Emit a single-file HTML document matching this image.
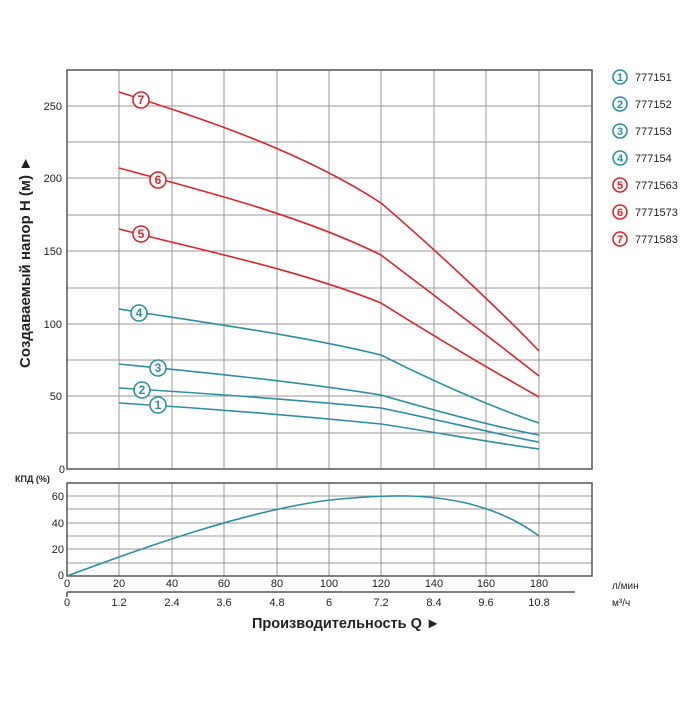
<!DOCTYPE html>
<html><head><meta charset="utf-8"><style>
body{margin:0;background:#fff}
text{font-family:"Liberation Sans",sans-serif;fill:#222}
</style></head><body>
<svg width="700" height="700" viewBox="0 0 700 700" xmlns="http://www.w3.org/2000/svg">
<g stroke="#999" stroke-width="1" fill="none">
<path d="M119 70V469M172 70V469M224 70V469M277 70V469M329 70V469M381 70V469M434 70V469M486 70V469M539 70V469"/>
<path d="M67 106H592M67 142H592M67 178H592M67 215H592M67 251H592M67 288H592M67 324H592M67 360H592M67 396H592M67 433H592"/>
<path d="M119 483V576M172 483V576M224 483V576M277 483V576M329 483V576M381 483V576M434 483V576M486 483V576M539 483V576"/>
<path d="M67 496H592M67 509H592M67 523H592M67 536H592M67 549H592M67 563H592"/>
</g>
<rect x="67" y="70" width="525" height="399" fill="none" stroke="#555" stroke-width="1.5"/>
<rect x="67" y="483" width="525" height="93" fill="none" stroke="#555" stroke-width="1.5"/>
<path d="M67 592H575M67 592V597" stroke="#555" stroke-width="1.5"/>
<g fill="none" stroke-width="1.6">
<path stroke="#d9262e" d="M119 92 C200 118 300 150 381 203 C430 245 500 310 539 351"/>
<path stroke="#d9262e" d="M119 168 C200 190 300 215 381 255 C440 300 500 345 539 376"/>
<path stroke="#d9262e" d="M119 229 C200 250 300 270 381 303 C440 340 500 375 539 397"/>
<path stroke="#2e8fa3" d="M119 309 C200 322 300 335 381 355 C440 385 500 410 539 423"/>
<path stroke="#2e8fa3" d="M119 364 C200 372 300 382 381 395 C440 412 500 428 539 435"/>
<path stroke="#2e8fa3" d="M119 388 C200 393 300 400 381 408 C440 420 500 435 539 442"/>
<path stroke="#2e8fa3" d="M119 403 C200 408 300 416 381 424 C440 433 500 444 539 449"/>
<path stroke="#2e8fa3" d="M67 576 C150 545 250 510 330 500 C390 494 430 494 470 504 C500 512 520 522 539 536"/>
</g>
<g font-size="12" font-weight="bold" text-anchor="middle">
<g stroke="#d9262e" stroke-width="1.6" fill="#fff"><circle cx="141" cy="100" r="8"/><circle cx="158" cy="180" r="8"/><circle cx="141" cy="234" r="8"/>
<circle cx="620" cy="212" r="7"/><circle cx="620" cy="185" r="7"/><circle cx="620" cy="239" r="7"/></g>
<g stroke="#2e8fa3" stroke-width="1.6" fill="#fff"><circle cx="139" cy="313" r="8"/><circle cx="158" cy="368" r="8"/><circle cx="142" cy="390" r="8"/><circle cx="158" cy="405" r="8"/>
<circle cx="620" cy="77" r="7"/><circle cx="620" cy="104" r="7"/><circle cx="620" cy="131" r="7"/><circle cx="620" cy="158" r="7"/></g>
<text x="141" y="104" style="fill:#d9262e">7</text><text x="158" y="184" style="fill:#d9262e">6</text><text x="141" y="238" style="fill:#d9262e">5</text>
<text x="139" y="317" style="fill:#2e8fa3">4</text><text x="158" y="372" style="fill:#2e8fa3">3</text><text x="142" y="394" style="fill:#2e8fa3">2</text><text x="158" y="409" style="fill:#2e8fa3">1</text>
<g font-size="11"><text x="620" y="81" style="fill:#2e8fa3">1</text><text x="620" y="108" style="fill:#2e8fa3">2</text><text x="620" y="135" style="fill:#2e8fa3">3</text><text x="620" y="162" style="fill:#2e8fa3">4</text>
<text x="620" y="189" style="fill:#d9262e">5</text><text x="620" y="216" style="fill:#d9262e">6</text><text x="620" y="243" style="fill:#d9262e">7</text></g>
</g>
<g font-size="11"><text x="635" y="81">777151</text><text x="635" y="108">777152</text><text x="635" y="135">777153</text><text x="635" y="162">777154</text><text x="635" y="189">7771563</text><text x="635" y="216">7771573</text><text x="635" y="243">7771583</text></g>
<g font-size="11" text-anchor="end"><text x="62" y="110">250</text><text x="62" y="182">200</text><text x="62" y="255">150</text><text x="62" y="328">100</text><text x="62" y="400">50</text><text x="65" y="473">0</text>
<text x="64" y="500">60</text><text x="64" y="527">40</text><text x="64" y="553">20</text><text x="64" y="579">0</text></g>
<text x="15" y="482" font-size="9" font-weight="bold">КПД (%)</text>
<g font-size="11" text-anchor="middle"><text x="67" y="587">0</text><text x="119" y="587">20</text><text x="172" y="587">40</text><text x="224" y="587">60</text><text x="277" y="587">80</text><text x="329" y="587">100</text><text x="381" y="587">120</text><text x="434" y="587">140</text><text x="486" y="587">160</text><text x="539" y="587">180</text>
<text x="67" y="606">0</text><text x="119" y="606">1.2</text><text x="172" y="606">2.4</text><text x="224" y="606">3.6</text><text x="277" y="606">4.8</text><text x="329" y="606">6</text><text x="381" y="606">7.2</text><text x="434" y="606">8.4</text><text x="486" y="606">9.6</text><text x="539" y="606">10.8</text></g>
<text x="612" y="589" font-size="10">л/мин</text><text x="612" y="606" font-size="10">м³/ч</text>
<text x="252" y="628" font-size="14.5" font-weight="bold">Производительность Q ►</text>
<text transform="translate(30 262) rotate(-90)" font-size="15" font-weight="bold" text-anchor="middle">Создаваемый напор H (м) ►</text>
</svg>
</body></html>
